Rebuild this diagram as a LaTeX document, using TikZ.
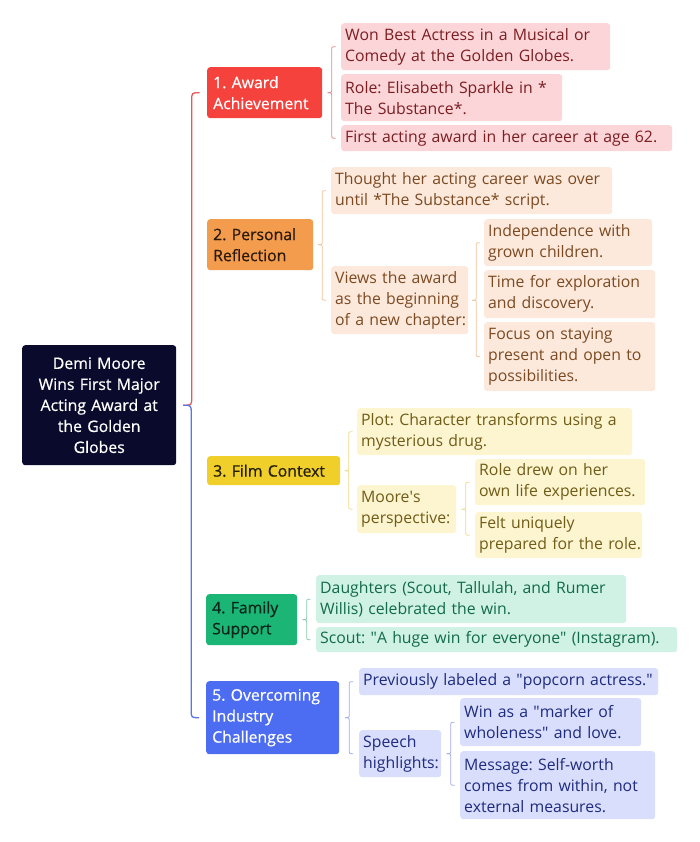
\documentclass[tikz,border=0pt]{standalone}
\usepackage{fontspec}
\setmainfont{Open Sans}
\newfontfamily\semibold{Open Sans}[FakeBold=0.6]
\usepackage{xcolor}
\usetikzlibrary{calc,positioning}
\definecolor{navy}{HTML}{0A0B2C}
\definecolor{redTop}{HTML}{F5423D}    \definecolor{redInk}{HTML}{FFFFFF}
\definecolor{redLeaf}{HTML}{FCD5D8}   \definecolor{redText}{HTML}{7A1E22}
\definecolor{redLine}{HTML}{E3868D}
\definecolor{orangeTop}{HTML}{F49C4D} \definecolor{orangeInk}{HTML}{2B1A0C}
\definecolor{orangeLeaf}{HTML}{FDE9DC}\definecolor{orangeText}{HTML}{7B4A22}
\definecolor{orangeLine}{HTML}{F2C39A}
\definecolor{yellowTop}{HTML}{F0CF2B} \definecolor{yellowInk}{HTML}{231E05}
\definecolor{yellowLeaf}{HTML}{FDF4D0}\definecolor{yellowText}{HTML}{6F5C17}
\definecolor{yellowLine}{HTML}{F0D98A}
\definecolor{greenTop}{HTML}{1BB676}  \definecolor{greenInk}{HTML}{072419}
\definecolor{greenLeaf}{HTML}{CFF2E4} \definecolor{greenText}{HTML}{136A4B}
\definecolor{greenLine}{HTML}{86C9AE}
\definecolor{blueTop}{HTML}{4C6CF2}   \definecolor{blueInk}{HTML}{FFFFFF}
\definecolor{blueLeaf}{HTML}{D9DEFC}  \definecolor{blueText}{HTML}{1E2B7E}
\definecolor{blueLine}{HTML}{A0ACEB}
\definecolor{rootRed}{HTML}{E4575C}
\definecolor{rootBlue}{HTML}{5B74E6}
\newcommand\boxfont{\frenchspacing\hyphenpenalty=10000\fontsize{15.8}{21}\selectfont}
\newcommand\dq{\textquotedbl}
\tikzset{%
	root/.style  = {anchor=north west, fill=navy, text=white, rounded corners=3pt, align=center, text width=150pt, minimum height=120pt, inner xsep=2pt, inner ysep=0pt, font=\boxfont\semibold},
	topic/.style = {anchor=north west, fill=#1Top, text=#1Ink, rounded corners=3pt, align=left, inner xsep=6pt, inner ysep=0pt, font=\boxfont\semibold},
	leaf/.style  = {anchor=north west, fill=#1Leaf, text=#1Text, rounded corners=3pt, align=left, inner xsep=4pt, inner ysep=0pt, font=\boxfont},
	brace/.style = {draw=#1Line, line width=0.8pt},
	trunk/.style = {draw=#1, line width=1.3pt},
}
% half braces: parent to first / last child
\newcommand\bracetop[4][4pt]{\draw[#2] let \p1=(#3.east), \p2=(#4.west), \n1={0.5*\x1+0.5*\x2} in
	({\n1+#1},\y2) .. controls (\n1,\y2) .. (\n1,\y2-#1) -- (\n1,\y1+#1) .. controls (\n1,\y1) .. ({\n1-#1},\y1);}
\newcommand\bracebot[4][4pt]{\draw[#2] let \p1=(#3.east), \p2=(#4.west), \n1={0.5*\x1+0.5*\x2} in
	({\n1+#1},\y2) .. controls (\n1,\y2) .. (\n1,\y2+#1) -- (\n1,\y1-#1) .. controls (\n1,\y1) .. ({\n1-#1},\y1);}
\newcommand\bracepair[4]{\bracetop{#1}{#2}{#3}\bracebot{#1}{#2}{#4}}

\begin{document}
\begin{tikzpicture}[x=1pt,y=-1pt]
	\useasboundingbox (0,0) rectangle (700,842);
	
	\node[root] (demi) at (22,345) {Demi Moore\\Wins First Major\\Acting Award at\\the Golden\\Globes};
	
	% topics
	\node[topic=red, text width=103pt, minimum height=51pt] (award) at (207,67) {1. Award\\Achievement};
	\node[topic=orange, text width=94pt, minimum height=51pt] (reflect) at (207,219) {2. Personal\\Reflection};
	\node[topic=yellow, text width=121pt, minimum height=29pt] (film) at (207,456) {3. Film Context};
	\node[topic=green, text width=79pt, minimum height=51pt] (family) at (206,594) {4. Family\\Support};
	\node[topic=blue, text width=121pt, minimum height=73pt] (industry) at (206,681) {5. Overcoming\\Industry\\Challenges};
	
	% 1. award
	\node[leaf=red, text width=261pt, minimum height=47pt] (won) at (341,23) {Won Best Actress in a Musical or\\Comedy at the Golden Globes.};
	\node[leaf=red, text width=213pt, minimum height=47pt] (role) at (341,74) {Role: Elisabeth Sparkle in *\\The Substance*.};
	\node[leaf=red, text width=323pt, minimum height=26pt] (first) at (341,125) {First acting award in her career at age 62.};
	
	% 2. reflection
	\node[leaf=orange, text width=273pt, minimum height=47pt] (thought) at (331,167) {Thought her acting career was over\\until *The Substance* script.};
	\node[leaf=orange, text width=129pt, minimum height=68pt] (views) at (331,266) {Views the award\\as the beginning\\\mbox{of a new chapter:}};
	\node[leaf=orange, text width=160pt, minimum height=47pt] (indep) at (484,219) {Independence with\\grown children.};
	\node[leaf=orange, text width=163pt, minimum height=48pt] (explore) at (484,270) {Time for exploration\\and discovery.};
	\node[leaf=orange, text width=163pt, minimum height=69pt] (present) at (484,322) {Focus on staying\\present and open to\\possibilities.};
	
	% 3. film
	\node[leaf=yellow, text width=267pt, minimum height=47pt] (plot) at (357,408) {Plot: Character transforms using a\\mysterious drug.};
	\node[leaf=yellow, text width=91pt, minimum height=48pt] (persp) at (357,485) {Moore\textquotesingle s\\perspective:};
	\node[leaf=yellow, text width=162pt, minimum height=46pt] (drew) at (475,459) {Role drew on her\\own life experiences.};
	\node[leaf=yellow, text width=159pt, minimum height=46pt] (felt) at (475,512) {Felt uniquely\\\mbox{prepared for the role.}};
	
	% 4. family
	\node[leaf=green, text width=302pt, minimum height=48pt] (daughters) at (316,575) {Daughters (Scout, Tallulah, and Rumer\\Willis) celebrated the win.};
	\node[leaf=green, text width=353pt, minimum height=25pt] (scout) at (316,627) {Scout: \dq A huge win for everyone\dq{} (Instagram).};
	
	% 5. industry
	\node[leaf=blue, text width=291pt, minimum height=27pt] (popcorn) at (359,668) {Previously labeled a \dq popcorn actress.\dq};
	\node[leaf=blue, text width=74pt, minimum height=47pt] (speech) at (359,730) {Speech\\highlights:};
	\node[leaf=blue, text width=173pt, minimum height=48pt] (marker) at (460,698) {Win as a \dq marker of\\wholeness\dq{} and love.};
	\node[leaf=blue, text width=187pt, minimum height=68pt] (message) at (460,751) {Message: Self-worth\\comes from within, not\\external measures.};
	
	% braces
	\bracetop[8pt]{trunk=rootRed}{demi}{award}
	\bracebot[8pt]{trunk=rootBlue}{demi}{industry}
	\bracepair{brace=red}{award}{won}{first}
	\bracepair{brace=orange}{reflect}{thought}{views}
	\bracepair{brace=orange}{views}{indep}{present}
	\bracepair{brace=yellow}{film}{plot}{persp}
	\bracepair{brace=yellow}{persp}{drew}{felt}
	\bracepair{brace=green}{family}{daughters}{scout}
	\bracepair{brace=blue}{industry}{popcorn}{speech}
	\bracepair{brace=blue}{speech}{marker}{message}
\end{tikzpicture}
\end{document}
